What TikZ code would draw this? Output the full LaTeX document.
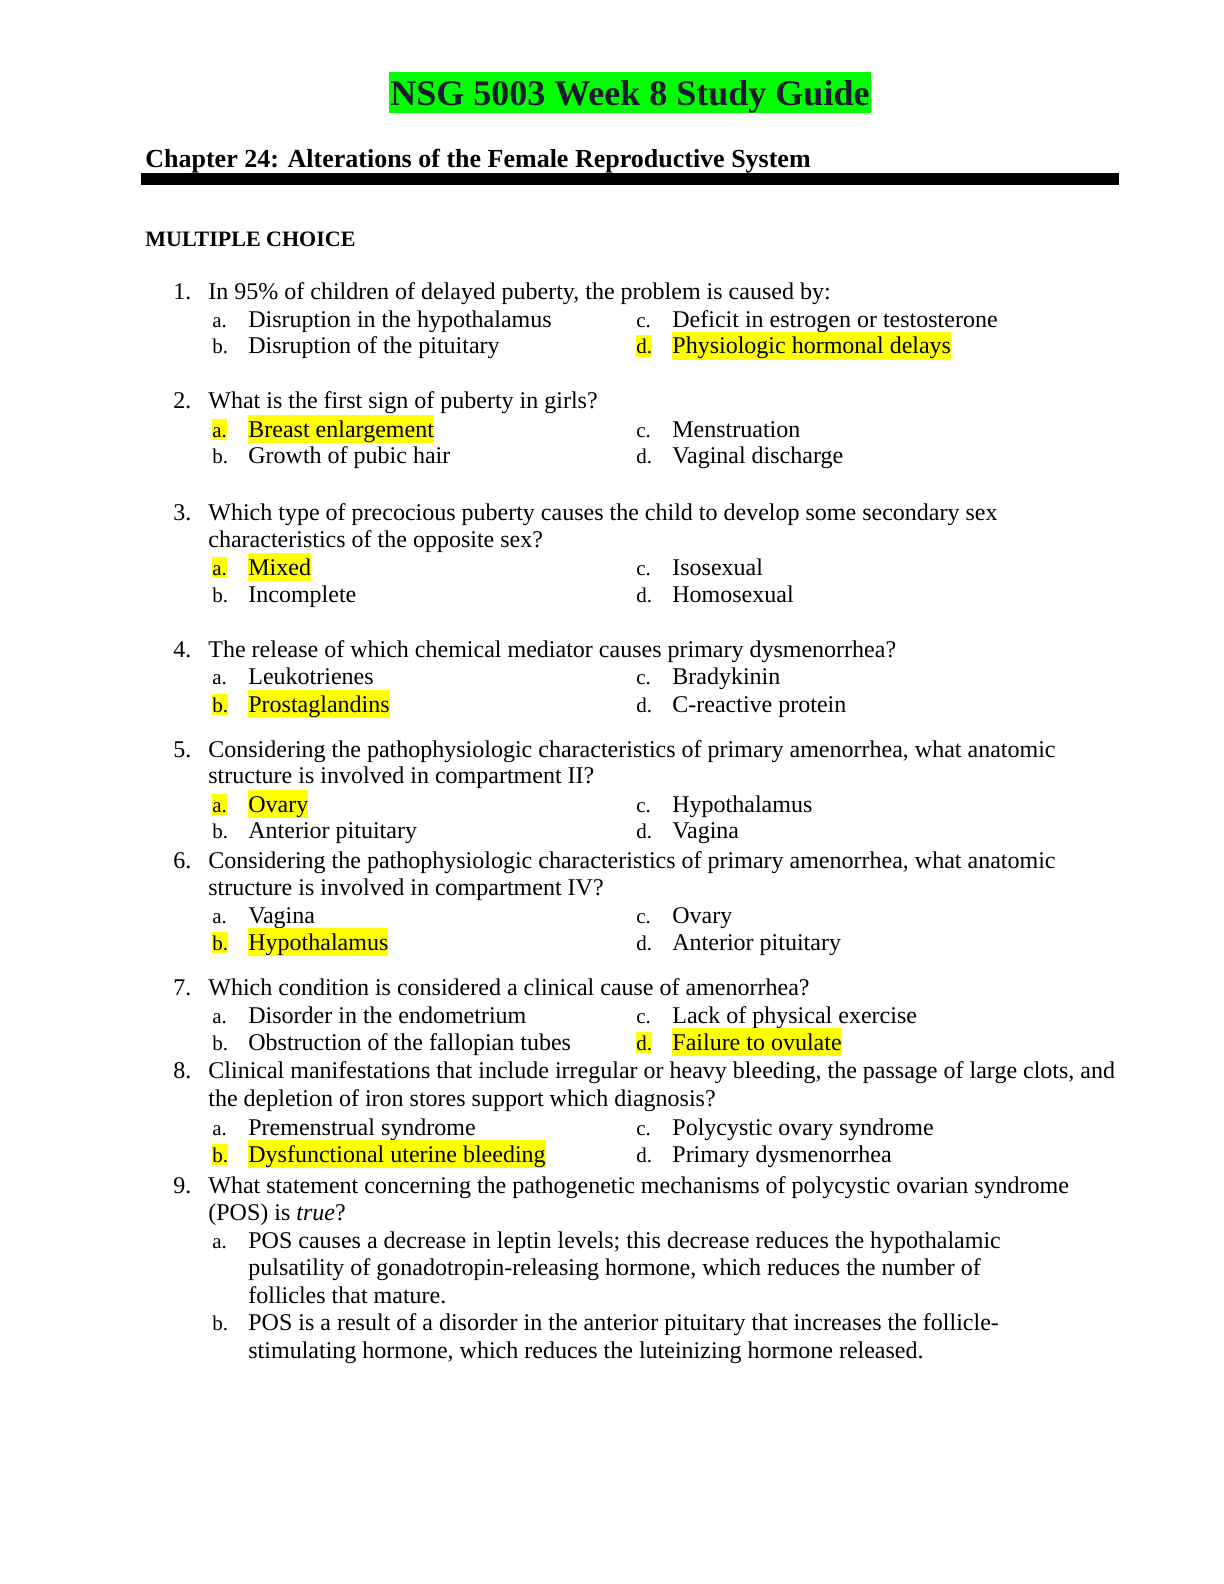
\documentclass[tikz,border=0pt]{standalone}
\usepackage{fontspec}
\setmainfont{Liberation Serif}
\definecolor{hlyellow}{RGB}{255,255,0}
\definecolor{hlgreen}{RGB}{0,255,0}
\definecolor{titleink}{RGB}{26,26,46}
\tikzset{
  body/.style={anchor=base west, inner sep=0pt, font=\fontsize{12}{14}\selectfont},
  lett/.style={anchor=base west, inner sep=0pt, font=\fontsize{10.5}{12}\selectfont},
  hlbody/.style={body, fill=hlyellow, text height=10.8pt, text depth=3pt},
  hllett/.style={lett, fill=hlyellow, text height=9.2pt, text depth=1.7pt},
  titlestyle/.style={anchor=base, inner ysep=0pt, inner xsep=0.8pt, fill=hlgreen, text=titleink,
    text height=16.6pt, text depth=4.2pt, font=\fontsize{18}{20}\selectfont\bfseries},
  chapstyle/.style={anchor=base west, inner sep=0pt, font=\fontsize{13}{15}\selectfont\bfseries},
  mcstyle/.style={anchor=base west, inner sep=0pt, font=\fontsize{11}{13}\selectfont\bfseries},
}
\begin{document}
\begin{tikzpicture}[x=0.5pt,y=-0.5pt]
\useasboundingbox (0,0) rectangle (1224,1584);
\fill[white] (0,0) rectangle (1224,1584);
% header
\node[titlestyle] (title) at (630,105) {NSG 5003 Week 8 Study Guide};
\node[chapstyle] (chap) at (145,168) {Chapter 24: Alterations of the Female Reproductive System};
\fill[black] (141,173) rectangle (1119,185);
\node[mcstyle] (mc) at (145,246.5) {MULTIPLE CHOICE};
% Q1
\node[body] (n1) at (173,299) {1.};
\node[body] (q1) at (208,299) {In 95\% of children of delayed puberty, the problem is caused by:};
\node[lett] (q1al) at (212,327) {a.};
\node[body] (q1a) at (248,327) {Disruption in the hypothalamus};
\node[lett] (q1cl) at (636,327) {c.};
\node[body] (q1c) at (672,327) {Deficit in estrogen or testosterone};
\node[lett] (q1bl) at (212,353.5) {b.};
\node[body] (q1b) at (248,353.5) {Disruption of the pituitary};
\node[hllett] (q1dl) at (636,353.5) {d.};
\node[hlbody] (q1d) at (672,353.5) {Physiologic hormonal delays};
% Q2
\node[body] (n2) at (173,408.5) {2.};
\node[body] (q2) at (208,408.5) {What is the first sign of puberty in girls?};
\node[hllett] (q2al) at (212,437) {a.};
\node[hlbody] (q2a) at (248,437) {Breast enlargement};
\node[lett] (q2cl) at (636,437) {c.};
\node[body] (q2c) at (672,437) {Menstruation};
\node[lett] (q2bl) at (212,463.5) {b.};
\node[body] (q2b) at (248,463.5) {Growth of pubic hair};
\node[lett] (q2dl) at (636,463.5) {d.};
\node[body] (q2d) at (672,463.5) {Vaginal discharge};
% Q3
\node[body] (n3) at (173,520) {3.};
\node[body] (q3) at (208,520) {Which type of precocious puberty causes the child to develop some secondary sex};
\node[body] (q3x) at (208,547) {characteristics of the opposite sex?};
\node[hllett] (q3al) at (212,575) {a.};
\node[hlbody] (q3a) at (248,575) {Mixed};
\node[lett] (q3cl) at (636,575) {c.};
\node[body] (q3c) at (672,575) {Isosexual};
\node[lett] (q3bl) at (212,602) {b.};
\node[body] (q3b) at (248,602) {Incomplete};
\node[lett] (q3dl) at (636,602) {d.};
\node[body] (q3d) at (672,602) {Homosexual};
% Q4
\node[body] (n4) at (173,657) {4.};
\node[body] (q4) at (208,657) {The release of which chemical mediator causes primary dysmenorrhea?};
\node[lett] (q4al) at (212,684) {a.};
\node[body] (q4a) at (248,684) {Leukotrienes};
\node[lett] (q4cl) at (636,684) {c.};
\node[body] (q4c) at (672,684) {Bradykinin};
\node[hllett] (q4bl) at (212,712) {b.};
\node[hlbody] (q4b) at (248,712) {Prostaglandins};
\node[lett] (q4dl) at (636,712) {d.};
\node[body] (q4d) at (672,712) {C-reactive protein};
% Q5
\node[body] (n5) at (173,757) {5.};
\node[body] (q5) at (208,757) {Considering the pathophysiologic characteristics of primary amenorrhea, what anatomic};
\node[body] (q5x) at (208,783.5) {structure is involved in compartment II?};
\node[hllett] (q5al) at (212,812) {a.};
\node[hlbody] (q5a) at (248,812) {Ovary};
\node[lett] (q5cl) at (636,812) {c.};
\node[body] (q5c) at (672,812) {Hypothalamus};
\node[lett] (q5bl) at (212,838) {b.};
\node[body] (q5b) at (248,838) {Anterior pituitary};
\node[lett] (q5dl) at (636,838) {d.};
\node[body] (q5d) at (672,838) {Vagina};
% Q6
\node[body] (n6) at (173,868) {6.};
\node[body] (q6) at (208,868) {Considering the pathophysiologic characteristics of primary amenorrhea, what anatomic};
\node[body] (q6x) at (208,895) {structure is involved in compartment IV?};
\node[lett] (q6al) at (212,923) {a.};
\node[body] (q6a) at (248,923) {Vagina};
\node[lett] (q6cl) at (636,923) {c.};
\node[body] (q6c) at (672,923) {Ovary};
\node[hllett] (q6bl) at (212,950) {b.};
\node[hlbody] (q6b) at (248,950) {Hypothalamus};
\node[lett] (q6dl) at (636,950) {d.};
\node[body] (q6d) at (672,950) {Anterior pituitary};
% Q7
\node[body] (n7) at (173,995) {7.};
\node[body] (q7) at (208,995) {Which condition is considered a clinical cause of amenorrhea?};
\node[lett] (q7al) at (212,1023) {a.};
\node[body] (q7a) at (248,1023) {Disorder in the endometrium};
\node[lett] (q7cl) at (636,1023) {c.};
\node[body] (q7c) at (672,1023) {Lack of physical exercise};
\node[lett] (q7bl) at (212,1050) {b.};
\node[body] (q7b) at (248,1050) {Obstruction of the fallopian tubes};
\node[hllett] (q7dl) at (636,1050) {d.};
\node[hlbody] (q7d) at (672,1050) {Failure to ovulate};
% Q8
\node[body] (n8) at (173,1078) {8.};
\node[body] (q8) at (208,1078) {Clinical manifestations that include irregular or heavy bleeding, the passage of large clots, and};
\node[body] (q8x) at (208,1106.5) {the depletion of iron stores support which diagnosis?};
\node[lett] (q8al) at (212,1135) {a.};
\node[body] (q8a) at (248,1135) {Premenstrual syndrome};
\node[lett] (q8cl) at (636,1135) {c.};
\node[body] (q8c) at (672,1135) {Polycystic ovary syndrome};
\node[hllett] (q8bl) at (212,1162) {b.};
\node[hlbody] (q8b) at (248,1162) {Dysfunctional uterine bleeding};
\node[lett] (q8dl) at (636,1162) {d.};
\node[body] (q8d) at (672,1162) {Primary dysmenorrhea};
% Q9
\node[body] (n9) at (173,1193) {9.};
\node[body] (q9) at (208,1193) {What statement concerning the pathogenetic mechanisms of polycystic ovarian syndrome};
\node[body] (q9x) at (208,1220) {(POS) is \textit{true}?};
\node[lett] (q9al) at (212,1248) {a.};
\node[body] (q9a) at (248,1248) {POS causes a decrease in leptin levels; this decrease reduces the hypothalamic};
\node[body] (q9a2) at (248,1275) {pulsatility of gonadotropin-releasing hormone, which reduces the number of};
\node[body] (q9a3) at (248,1303) {follicles that mature.};
\node[lett] (q9bl) at (212,1330) {b.};
\node[body] (q9b) at (248,1330) {POS is a result of a disorder in the anterior pituitary that increases the follicle-};
\node[body] (q9b2) at (248,1358) {stimulating hormone, which reduces the luteinizing hormone released.};
\end{tikzpicture}
\end{document}
